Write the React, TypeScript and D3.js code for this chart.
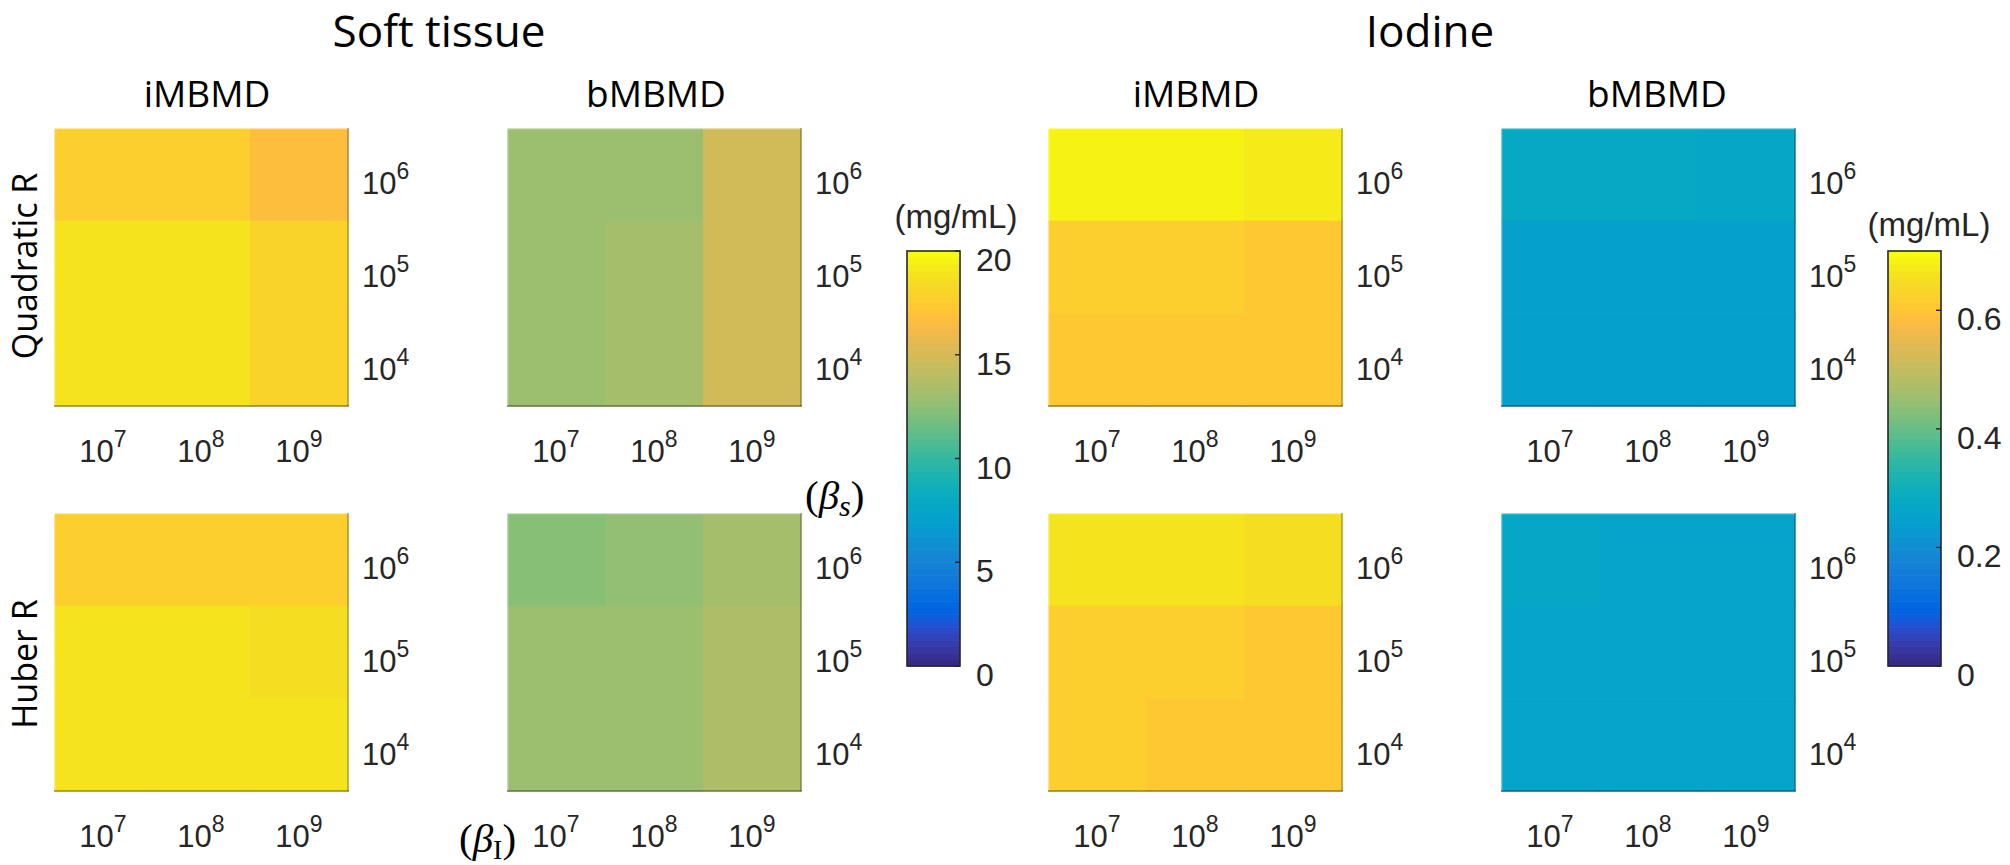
import React from "react";
import * as d3 from "d3";

// β_I exponents (columns) and β_s exponents (rows, top → bottom)
const betaI = ["7", "8", "9"];
const betaS = ["6", "5", "4"];

// Soft tissue values (mg/mL)
const softQuadI = [
  [17.65, 17.65, 16.7],
  [18.9, 18.9, 17.95],
  [18.9, 18.9, 17.95],
];
const softQuadB = [
  [12.95, 12.95, 14.85],
  [12.95, 13.3, 14.85],
  [12.95, 13.3, 14.85],
];
const softHubI = [
  [17.65, 17.65, 17.7],
  [18.9, 18.9, 18.6],
  [18.9, 18.9, 18.9],
];
const softHubB = [
  [12.35, 12.65, 13.3],
  [12.95, 12.95, 13.6],
  [12.95, 12.95, 13.6],
];

// Iodine values (mg/mL)
const iodQuadI = [
  [0.683, 0.683, 0.672],
  [0.618, 0.618, 0.607],
  [0.607, 0.607, 0.607],
];
const iodQuadB = [
  [0.279, 0.279, 0.268],
  [0.246, 0.246, 0.246],
  [0.246, 0.246, 0.246],
];
const iodHubI = [
  [0.661, 0.661, 0.65],
  [0.618, 0.618, 0.607],
  [0.618, 0.607, 0.607],
];
const iodHubB = [
  [0.268, 0.257, 0.257],
  [0.257, 0.257, 0.257],
  [0.257, 0.257, 0.257],
];

const softTicks = [0, 5, 10, 15, 20];
const iodTicks = [0, 0.2, 0.4, 0.6];
const softDomain = [0, 20];
const iodDomain = [0, 0.7];

const groupTitles = ["Soft tissue", "Iodine"];
const methodTitles = ["iMBMD", "bMBMD", "iMBMD", "bMBMD"];
const rowTitles = ["Quadratic R", "Huber R"];
const unitLabel = "(mg/mL)";

// MATLAB parula colormap (64 entries) — styling
const PARULA: number[][] = [
  [0.2081, 0.1663, 0.5292], [0.2116, 0.1898, 0.5777], [0.2123, 0.2138, 0.627], [0.2081, 0.2386, 0.6771],
  [0.1959, 0.2645, 0.7279], [0.1707, 0.2919, 0.7792], [0.1253, 0.3242, 0.8303], [0.0591, 0.3598, 0.8683],
  [0.0117, 0.3875, 0.882], [0.006, 0.4086, 0.8828], [0.0165, 0.4266, 0.8786], [0.0329, 0.443, 0.872],
  [0.0498, 0.4586, 0.8641], [0.0629, 0.4737, 0.8554], [0.0723, 0.4887, 0.8467], [0.0779, 0.504, 0.8384],
  [0.0793, 0.52, 0.8312], [0.0749, 0.5375, 0.8263], [0.0641, 0.557, 0.824], [0.0488, 0.5772, 0.8228],
  [0.0343, 0.5966, 0.8199], [0.0265, 0.6137, 0.8135], [0.0239, 0.6287, 0.8038], [0.0231, 0.6418, 0.7913],
  [0.0228, 0.6535, 0.7768], [0.0267, 0.6642, 0.7607], [0.0384, 0.6743, 0.7436], [0.059, 0.6838, 0.7254],
  [0.0843, 0.6928, 0.7062], [0.1133, 0.7015, 0.6859], [0.1453, 0.7098, 0.6646], [0.1801, 0.7177, 0.6424],
  [0.2178, 0.725, 0.6193], [0.2586, 0.7317, 0.5954], [0.3022, 0.7376, 0.5712], [0.3482, 0.7424, 0.5473],
  [0.3953, 0.7459, 0.5244], [0.442, 0.7481, 0.5033], [0.4871, 0.7491, 0.484], [0.53, 0.7491, 0.4661],
  [0.5709, 0.7485, 0.4494], [0.6099, 0.7473, 0.4337], [0.6473, 0.7456, 0.4188], [0.6834, 0.7435, 0.4044],
  [0.7184, 0.7411, 0.3905], [0.7525, 0.7384, 0.3768], [0.7858, 0.7356, 0.3633], [0.8185, 0.7327, 0.3498],
  [0.8507, 0.7299, 0.336], [0.8824, 0.7274, 0.3217], [0.9139, 0.7258, 0.3063], [0.945, 0.7261, 0.2886],
  [0.9739, 0.7314, 0.2666], [0.9938, 0.7455, 0.2403], [0.999, 0.7653, 0.2164], [0.9955, 0.7861, 0.1967],
  [0.988, 0.8066, 0.1794], [0.9789, 0.8271, 0.1633], [0.9697, 0.8481, 0.1475], [0.9626, 0.8705, 0.1309],
  [0.9589, 0.8949, 0.1132], [0.9598, 0.9218, 0.0948], [0.9661, 0.9514, 0.0755], [0.9763, 0.9831, 0.0538],
];
const parulaHex = PARULA.map(([r, g, b]) => d3.rgb(r * 255, g * 255, b * 255).formatHex());

function makeColor(domain: number[]) {
  const q = d3
    .scaleQuantize<string>()
    .domain(domain as [number, number])
    .range(parulaHex);
  return (v: number) => q(Math.max(domain[0], Math.min(domain[1] - 1e-9, v)));
}

const W = 2010;
const H = 865;
const PW = 294;
const PH = 278;
const colLefts = [54, 507, 1048, 1501];
const rowTops = [128, 513];
const titleCenters = [207, 656, 1196, 1657];
const groupCenters = [439, 1430];
const rowTitleY = [266, 664];

const SANS = "'Liberation Sans', Arial, Helvetica, sans-serif";
const TITLE = "'Open Sans', 'Noto Sans', sans-serif";
const SERIF = "'Liberation Serif', 'DejaVu Serif', serif";

function Pow10({ x, y, exp, anchor }: { x: number; y: number; exp: string; anchor: string }) {
  return (
    <text x={x} y={y} fontFamily={SANS} fontSize={31} fill="#262626" textAnchor={anchor}>
      <tspan>10</tspan>
      <tspan dy={-15} fontSize={23}>
        {exp}
      </tspan>
    </text>
  );
}

function Heatmap({ left, top, values, color }: { left: number; top: number; values: number[][]; color: (v: number) => string }) {
  const x = d3.scaleBand<string>().domain(betaI).range([left, left + PW]);
  const y = d3.scaleBand<string>().domain(betaS).range([top, top + PH]);
  return (
    <g>
      {betaS.map((s, ri) =>
        betaI.map((b, ci) => (
          <rect
            key={s + b}
            x={x(b)!}
            y={y(s)!}
            width={x.bandwidth() + 0.6}
            height={y.bandwidth() + 0.6}
            fill={color(values[ri][ci])}
          />
        ))
      )}
      <line x1={left} x2={left + PW} y1={top + 0.5} y2={top + 0.5} stroke="rgba(255,255,255,0.55)" strokeWidth={1.5} />
      <line x1={left + 0.5} x2={left + 0.5} y1={top} y2={top + PH} stroke="rgba(255,255,255,0.45)" strokeWidth={1.5} />
      <line x1={left} x2={left + PW + 1} y1={top + PH} y2={top + PH} stroke="rgba(0,0,0,0.3)" strokeWidth={2.2} />
      <line x1={left + PW} x2={left + PW} y1={top} y2={top + PH} stroke="rgba(0,0,0,0.25)" strokeWidth={1.8} />
      {betaS.map((s) => (
        <Pow10 key={"y" + s} x={left + PW + 14} y={y(s)! + y.bandwidth() / 2 + 20} exp={s} anchor="start" />
      ))}
      {betaI.map((b) => (
        <Pow10 key={"x" + b} x={x(b)! + x.bandwidth() / 2} y={top + PH + 56} exp={b} anchor="middle" />
      ))}
    </g>
  );
}

function Colorbar({
  left,
  domain,
  ticks,
  fmt,
  labelX,
  labelY,
}: {
  left: number;
  domain: number[];
  ticks: number[];
  fmt: (v: number) => string;
  labelX: number;
  labelY: number;
}) {
  const top = 251;
  const bottom = 666;
  const w = 53;
  const y = d3.scaleLinear().domain(domain).range([bottom, top]);
  const n = parulaHex.length;
  const step = (domain[1] - domain[0]) / n;
  return (
    <g>
      {parulaHex.map((c, i) => (
        <rect
          key={i}
          x={left}
          y={y(domain[0] + (i + 1) * step)}
          width={w}
          height={y(domain[0] + i * step) - y(domain[0] + (i + 1) * step) + 0.6}
          fill={c}
        />
      ))}
      <rect x={left} y={top} width={w} height={bottom - top} fill="none" stroke="#262626" strokeWidth={1.6} />
      {ticks.map((t) => (
        <g key={t}>
          <line x1={left + w - 5} x2={left + w} y1={y(t)} y2={y(t)} stroke="#262626" strokeWidth={1.4} />
          <text x={left + w + 16} y={y(t) + 20} fontFamily={SANS} fontSize={32} fill="#262626">
            {fmt(t)}
          </text>
        </g>
      ))}
      <text x={labelX} y={labelY} fontFamily={SANS} fontSize={33} fill="#262626" textAnchor="middle">
        {unitLabel}
      </text>
    </g>
  );
}

export default function App() {
  const softColor = makeColor(softDomain);
  const iodColor = makeColor(iodDomain);
  const panels = [
    { values: softQuadI, color: softColor, c: 0, r: 0 },
    { values: softQuadB, color: softColor, c: 1, r: 0 },
    { values: iodQuadI, color: iodColor, c: 2, r: 0 },
    { values: iodQuadB, color: iodColor, c: 3, r: 0 },
    { values: softHubI, color: softColor, c: 0, r: 1 },
    { values: softHubB, color: softColor, c: 1, r: 1 },
    { values: iodHubI, color: iodColor, c: 2, r: 1 },
    { values: iodHubB, color: iodColor, c: 3, r: 1 },
  ];
  return (
    <svg
      width={W}
      height={H}
      viewBox={`0 0 ${W} ${H}`}
      style={{ position: "absolute", left: 0, top: 0, background: "#fff" }}
    >
      <rect x={0} y={0} width={W} height={H} fill="#fff" />
      {groupTitles.map((t, i) => (
        <text key={t} x={groupCenters[i]} y={47} fontFamily={TITLE} fontSize={44} fill="#000" textAnchor="middle">
          {t}
        </text>
      ))}
      {methodTitles.map((t, i) => (
        <text key={i} x={titleCenters[i]} y={107} fontFamily={TITLE} fontSize={37} fill="#000" textAnchor="middle">
          {t}
        </text>
      ))}
      {rowTitles.map((t, i) => (
        <text
          key={t}
          transform={`translate(37,${rowTitleY[i]}) rotate(-90)`}
          fontFamily={TITLE}
          fontSize={34}
          fill="#000"
          textAnchor="middle"
        >
          {t}
        </text>
      ))}
      {panels.map((p, i) => (
        <Heatmap key={i} left={colLefts[p.c]} top={rowTops[p.r]} values={p.values} color={p.color} />
      ))}
      <Colorbar left={907} domain={softDomain} ticks={softTicks} fmt={(v) => String(v)} labelX={956} labelY={228} />
      <Colorbar left={1888} domain={iodDomain} ticks={iodTicks} fmt={(v) => String(v)} labelX={1929} labelY={236} />
      <text x={805} y={509} fontFamily={SERIF} fontSize={41} fill="#000">
        <tspan>(</tspan>
        <tspan fontStyle="italic">β</tspan>
        <tspan fontStyle="italic" fontSize={30} dy={7}>
          s
        </tspan>
        <tspan dy={-7}>)</tspan>
      </text>
      <text x={459} y={852} fontFamily={SERIF} fontSize={41} fill="#000">
        <tspan>(</tspan>
        <tspan fontStyle="italic">β</tspan>
        <tspan fontSize={28} dy={7}>
          I
        </tspan>
        <tspan dy={-7}>)</tspan>
      </text>
    </svg>
  );
}
